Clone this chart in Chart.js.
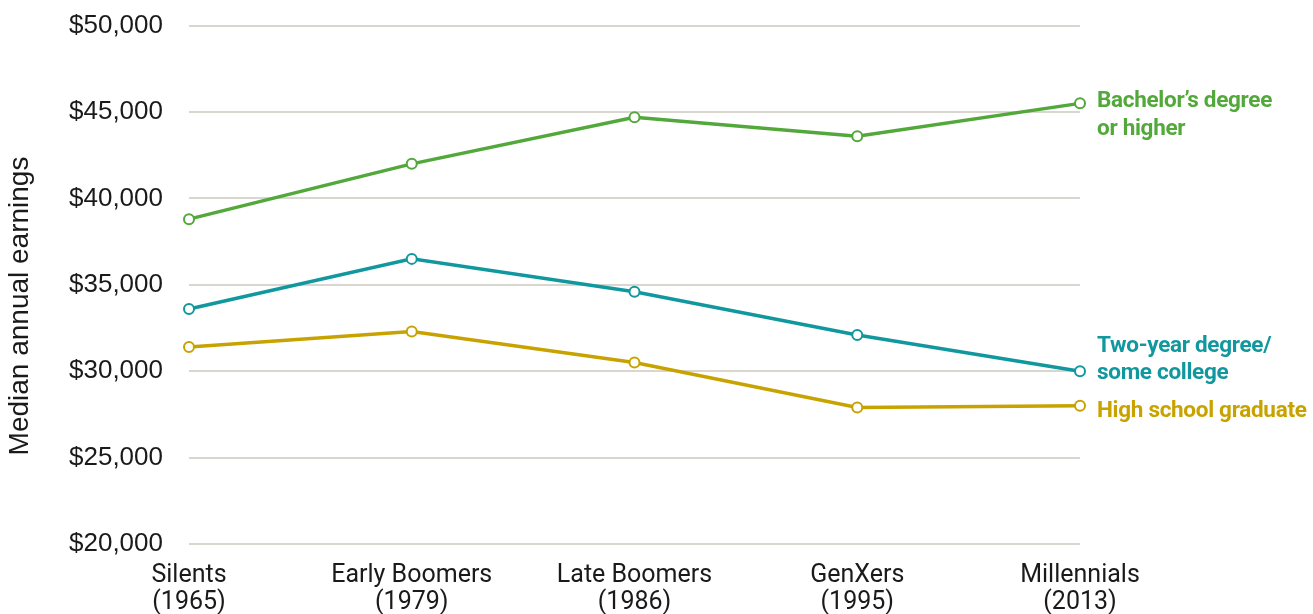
<!DOCTYPE html>
<html>
<head>
<meta charset="utf-8">
<script src="https://cdn.jsdelivr.net/npm/chart.js@4/dist/chart.umd.min.js"></script>
<style>
  html, body { margin: 0; padding: 0; background: #fff; overflow: hidden; }
  #wrap { width: 1313px; height: 630px; position: relative; margin-top: -16px; }
</style>
</head>
<body>
<div id="wrap"><canvas id="earningsChart"></canvas></div>
<script>
// generations and the year each was measured
const generations = [['Silents', '(1965)'], ['Early Boomers', '(1979)'], ['Late Boomers', '(1986)'], ['GenXers', '(1995)'], ['Millennials', '(2013)']];

// median annual earnings by education level
const bachelors = [38800, 42000, 44700, 43600, 45500];
const twoYear = [33600, 36500, 34600, 32100, 30000];
const highSchool = [31400, 32300, 30500, 27900, 28000];

const seriesNames = [["Bachelor\u2019s degree", 'or higher'], ['Two-year degree/', 'some college'], ['High school graduate']];
const seriesColors = ['#52a83a', '#10989e', '#c8a300'];

const yTicks = [20000, 25000, 30000, 35000, 40000, 45000, 50000];
const yTitle = 'Median annual earnings';

function makeDataset(label, data, color) {
    return {
        label: label,
        data: data,
        borderColor: color,
        borderWidth: 3.5,
        pointRadius: 5,
        pointBorderWidth: 2,
        pointBackgroundColor: '#fff',
        pointBorderColor: color,
        tension: 0,
        clip: false
    };
}

// series names next to the last point of each line
const endLabels = {
    id: 'endLabels',
    afterDatasetsDraw(chart) {
        const ctx = chart.ctx;
        ctx.save();
        ctx.font = 'bold 22.5px Roboto';
        ctx.letterSpacing = '-0.3px';
        ctx.textBaseline = 'middle';
        ctx.textAlign = 'left';
        const offsets = [[-2, 26], [-25, 2], [6]];
        chart.data.datasets.forEach((ds, i) => {
            const meta = chart.getDatasetMeta(i);
            const pt = meta.data[meta.data.length - 1];
            ctx.fillStyle = seriesColors[i];
            seriesNames[i].forEach((line, j) => {
                ctx.fillText(line, pt.x + 17, pt.y + offsets[i][j]);
            });
        });
        ctx.restore();
    }
};

// rotated y axis title, placed a little below the axis middle
const axisTitle = {
    id: 'axisTitle',
    afterDraw(chart) {
        const ctx = chart.ctx;
        ctx.save();
        ctx.font = '28px "Liberation Sans", Arial';
        ctx.fillStyle = '#1a1a1a';
        ctx.textAlign = 'center';
        ctx.textBaseline = 'middle';
        ctx.translate(20, 322);
        ctx.rotate(-Math.PI / 2);
        ctx.fillText(yTitle, 0, 0);
        ctx.restore();
    }
};

const ctx = document.getElementById('earningsChart').getContext('2d');
new Chart(ctx, {
    type: 'line',
    data: {
        labels: generations,
        datasets: [
            makeDataset(seriesNames[0].join(' '), bachelors, seriesColors[0]),
            makeDataset(seriesNames[1].join(' '), twoYear, seriesColors[1]),
            makeDataset(seriesNames[2].join(' '), highSchool, seriesColors[2])
        ]
    },
    options: {
        responsive: true,
        maintainAspectRatio: false,
        animation: false,
        layout: { padding: { top: 0, right: 233, bottom: 0, left: 0 } },
        plugins: {
            legend: { display: false },
            tooltip: { enabled: false }
        },
        scales: {
            x: {
                offset: false,
                grid: { display: false, drawTicks: false },
                border: { display: false },
                ticks: {
                    color: '#1a1a1a',
                    font: { family: 'Roboto', size: 25, lineHeight: 1.08 },
                    padding: 18,
                    maxRotation: 0,
                    autoSkip: false
                },
                afterFit(scale) { scale.height = 70; }
            },
            y: {
                min: 20000,
                max: 50000,
                afterBuildTicks(scale) { scale.ticks = yTicks.map(v => ({ value: v })); },
                grid: { color: '#d9d5cf', lineWidth: 2, drawTicks: false },
                border: { display: false },
                ticks: {
                    color: '#1a1a1a',
                    font: { family: '"Liberation Sans", Arial', size: 26 },
                    padding: 26,
                    callback: v => '$' + v.toLocaleString('en-US')
                },
                afterFit(scale) { scale.width = 189; }
            }
        }
    },
    plugins: [endLabels, axisTitle]
});
</script>
</body>
</html>
